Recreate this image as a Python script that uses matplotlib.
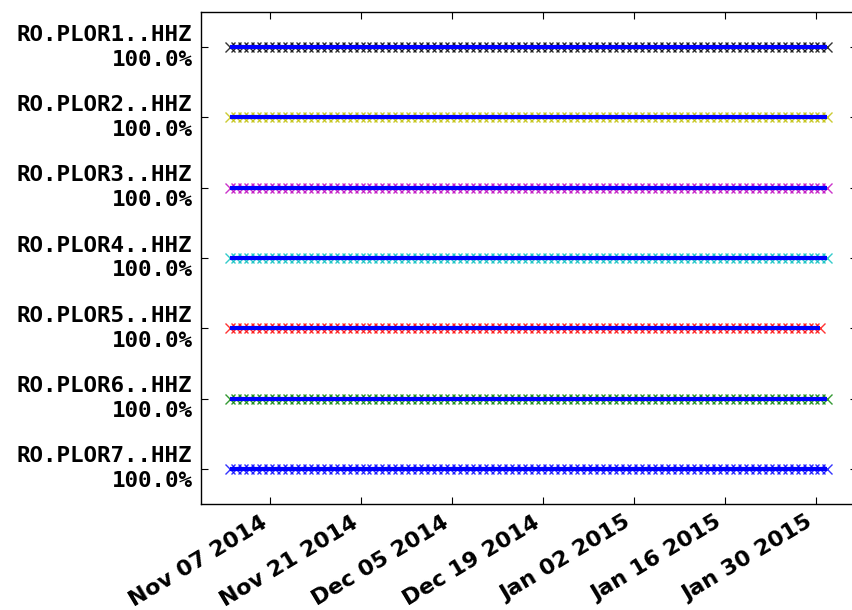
import datetime as dt
import matplotlib
matplotlib.use("Agg")
import matplotlib.pyplot as plt
import matplotlib.dates as mdates
import matplotlib.transforms as mtransforms

# channel ids, top to bottom
ids = ["RO.PLOR1..HHZ", "RO.PLOR2..HHZ", "RO.PLOR3..HHZ", "RO.PLOR4..HHZ",
       "RO.PLOR5..HHZ", "RO.PLOR6..HHZ", "RO.PLOR7..HHZ"]
percent = [100.0, 100.0, 100.0, 100.0, 100.0, 100.0, 100.0]
# number of daily files per channel
n_files = [92, 92, 92, 92, 91, 92, 92]
first_start = dt.datetime(2014, 10, 31, 18, 0)
marker_colors = ["k", "y", "m", "c", "r", "g", "b"]

tick_dates = [dt.datetime(2014, 11, 7), dt.datetime(2014, 11, 21),
              dt.datetime(2014, 12, 5), dt.datetime(2014, 12, 19),
              dt.datetime(2015, 1, 2), dt.datetime(2015, 1, 16),
              dt.datetime(2015, 1, 30)]

fig = plt.figure(figsize=(8.53, 6.10), dpi=100)
ax = fig.add_axes([0.2353, 0.1738, 0.7694, 0.8066])

ys = list(range(1, len(ids) + 1))
for y, n, col in zip(ys, n_files, marker_colors):
    starts = [first_start + dt.timedelta(days=d) for d in range(n + 1)]
    ax.hlines(y, starts[0], starts[-1], colors="b", linewidth=3.0, zorder=3)
    ax.plot(starts, [y] * len(starts), "x", color=col, ms=7, mew=1.0,
            alpha=0.8, zorder=2)

ax.set_ylim(len(ids) + 0.5, 0.5)
ax.set_xlim(dt.datetime(2014, 10, 27, 7), dt.datetime(2015, 2, 5, 9))

labels = ["%s\n%.1f%%" % (i, p) for i, p in zip(ids, percent)]
ax.set_yticks(ys)
ax.set_yticklabels(labels, family="DejaVu Sans Mono", fontweight="bold",
                   fontsize=16.2, multialignment="right", linespacing=1.3,
                   va="center")

ax.set_xticks(tick_dates)
ax.xaxis.set_major_formatter(mdates.DateFormatter("%b %d %Y"))
shift = mtransforms.ScaledTranslation(-5 / 100, 0, fig.dpi_scale_trans)
for lbl in ax.get_xticklabels():
    lbl.set_rotation(31)
    lbl.set_ha("right")
    lbl.set_fontweight("bold")
    lbl.set_fontsize(16)
    lbl.set_transform(lbl.get_transform() + shift)

ax.tick_params(direction="in", length=5, width=0.8, top=True, right=True, pad=6)
for sp in ax.spines.values():
    sp.set_linewidth(1.0)

fig.savefig("out.png", dpi=100)
